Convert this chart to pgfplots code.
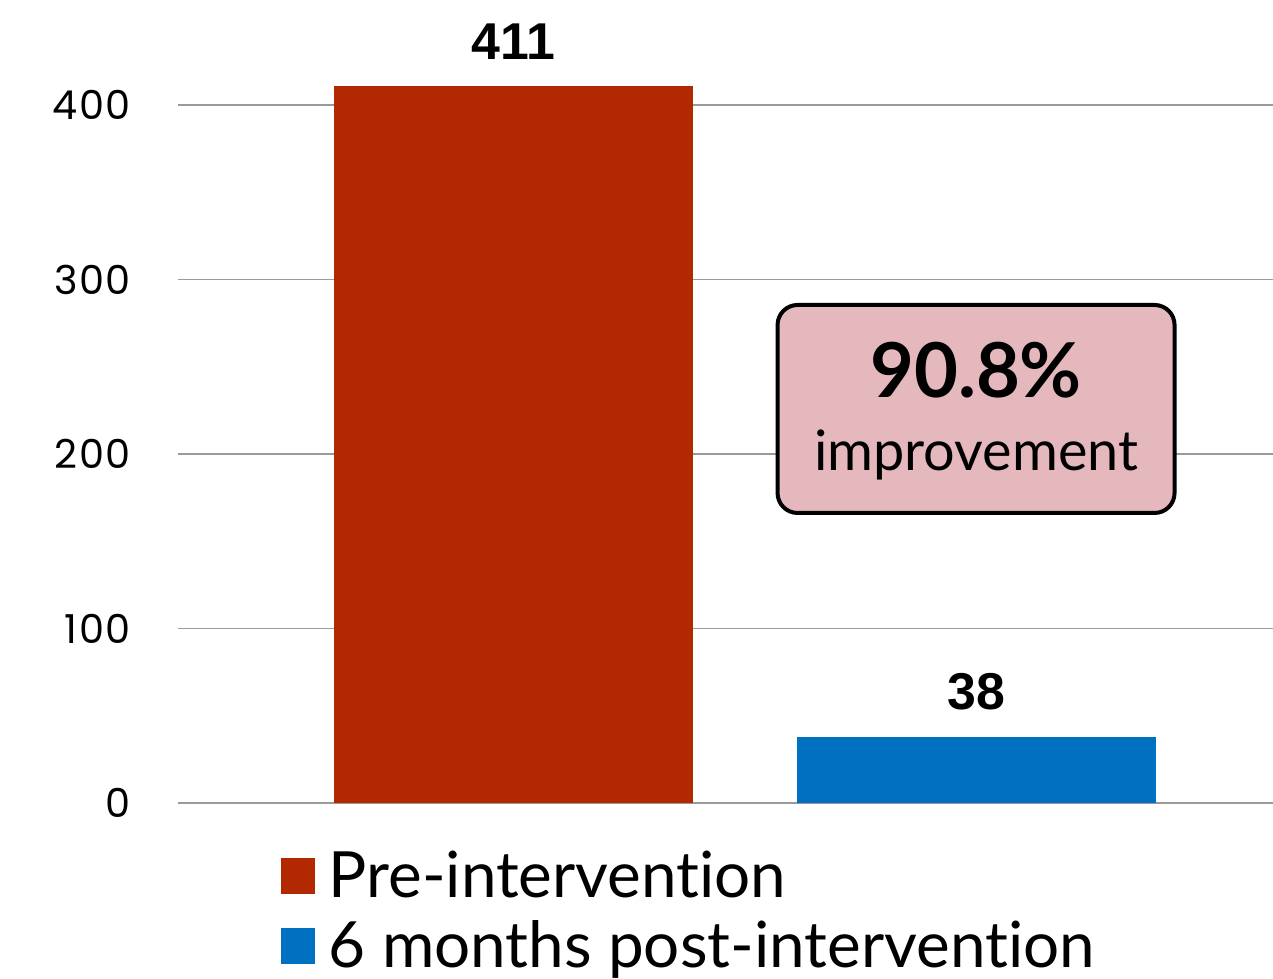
\documentclass[border=0pt]{standalone}
\usepackage{fontspec}
\setmainfont{Lato}[Ligatures=NoCommon]
\newfontfamily\tickfont{Poppins}[LetterSpace=4]
\newfontfamily\barfont{Liberation Sans}
\usepackage{pgfplots}
\pgfplotsset{compat=1.18}
\definecolor{prered}{HTML}{B22800}
\definecolor{postblue}{HTML}{0070C0}
\definecolor{boxpink}{HTML}{E5B8BE}
\definecolor{gridgray}{HTML}{9A9A9A}

\begin{document}
\begin{tikzpicture}
\path[use as bounding box] (0,0) rectangle (636.5bp,489.5bp);
\begin{axis}[
  at={(89bp,88bp)}, anchor=south west,
  scale only axis,
  width=547.5bp, height=383.9bp,
  xmin=-0.7254, xmax=1.642,
  ymin=0, ymax=440,
  axis line style={draw=none},
  ytick={0,100,200,300,400},
  xtick=\empty,
  ymajorgrids=true,
  grid style={gridgray, line width=0.6bp},
  major tick length=0pt,
  yticklabel style={font=\fontsize{20}{20}\tickfont, xshift=-20bp},
  /pgf/number format/assume math mode=true,
  ybar, bar width=179.5bp, bar shift=0pt,
  clip=false,
  nodes near coords,
  every node near coord/.append style={font=\fontsize{26}{26}\barfont\bfseries, anchor=south, inner sep=0pt, yshift=13bp},
  legend style={
    at={(0.088,-0.052)}, anchor=north west,
    draw=none, fill=none,
    font=\fontsize{32}{32}\selectfont,
    row sep=6bp,
    /tikz/every odd column/.append style={column sep=5bp},
  },
  legend cell align=left,
  legend image code/.code={\fill[#1,draw=none] (0bp,-9bp) rectangle (17bp,9bp);},
]
\addplot[fill=prered, draw=none] coordinates {(0,411)};
\addplot[fill=postblue, draw=none] coordinates {(1,38)};
\legend{Pre-intervention, 6 months post-intervention}
\node[draw=black, line width=2bp, fill=boxpink, rounded corners=10bp,
      minimum width=198.5bp, minimum height=104bp] at (axis cs:1,225.8) {};
\node[anchor=base, inner sep=0pt, font=\fontsize{38}{38}\selectfont\bfseries] at (axis cs:1,232.1) {90.8\%};
\node[anchor=base, inner sep=0pt, font=\fontsize{28}{28}\selectfont] at (axis cs:1,190.3) {improvement};
\end{axis}
\end{tikzpicture}
\end{document}
